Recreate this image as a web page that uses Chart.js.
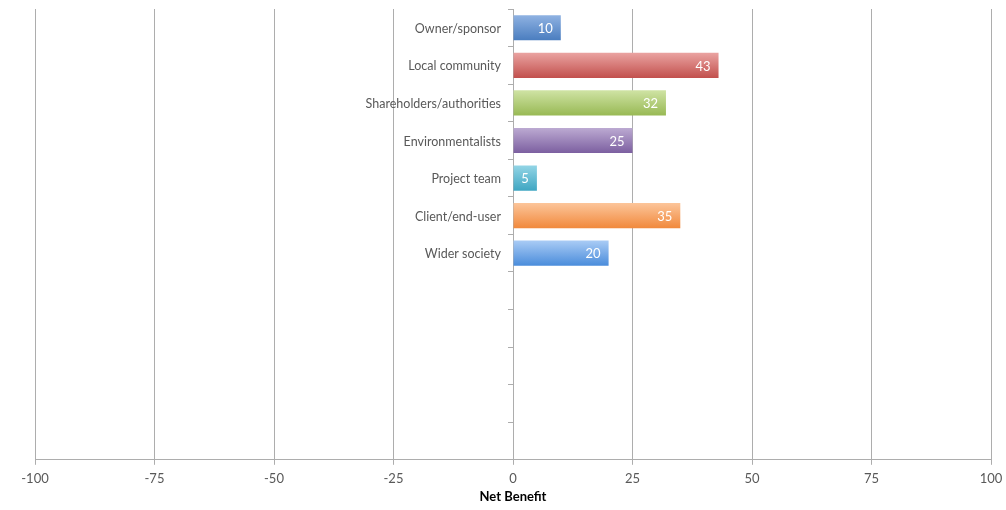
<!DOCTYPE html>
<html>
<head>
<meta charset="utf-8">
<script src="https://cdn.jsdelivr.net/npm/chart.js@4/dist/chart.umd.min.js"></script>
<style>
  html, body { margin: 0; padding: 0; background: #fff; }
  #wrap { width: 1006px; height: 510px; position: relative; }
</style>
</head>
<body>
<div id="wrap"><canvas id="chart"></canvas></div>
<script>
// Stakeholder rows (top to bottom); the last five rows are empty in the source
var stakeholders = ['Owner/sponsor', 'Local community', 'Shareholders/authorities',
    'Environmentalists', 'Project team', 'Client/end-user', 'Wider society', '', '', '', '', ''];
var netBenefit = [10, 43, 32, 25, 5, 35, 20, null, null, null, null, null];
var xTicks = [-100, -75, -50, -25, 0, 25, 50, 75, 100];

// light (top) / dark (bottom) pairs for the Excel-style bar gradient
var barTop = ['#8fb2e2', '#eaa3a1', '#cfe3a4', '#bcaad2', '#93d5e6', '#fcc59a', '#a9cbf5'];
var barBottom = ['#4a7dbf', '#c2504d', '#98b954', '#7c5fa0', '#3fa6c2', '#f1893c', '#4a8cdb'];

var gray = '#adadad';
var textGray = '#595959';
var fontFamily = 'Lato, "Liberation Sans", sans-serif';

function barFill(ctx) {
    var chart = ctx.chart;
    var i = ctx.dataIndex;
    if (!chart.chartArea || !chart.scales.y) return barBottom[i % barBottom.length];
    var y = chart.scales.y;
    var step = Math.abs(y.getPixelForValue(1) - y.getPixelForValue(0));
    var c = y.getPixelForValue(i);
    var half = step * 0.67 / 2;
    var g = chart.ctx.createLinearGradient(0, c - half, 0, c + half);
    g.addColorStop(0, barTop[i % barTop.length]);
    g.addColorStop(1, barBottom[i % barBottom.length]);
    return g;
}

// category names sit left of the zero line, values sit inside the bar ends
var textLabels = {
    id: 'textLabels',
    afterDatasetsDraw: function(chart) {
        var ctx = chart.ctx;
        var x = chart.scales.x;
        var y = chart.scales.y;
        var x0 = x.getPixelForValue(0);
        ctx.save();
        ctx.textBaseline = 'middle';
        ctx.textAlign = 'right';

        ctx.fillStyle = textGray;
        ctx.font = '12.5px ' + fontFamily;
        stakeholders.forEach(function(name, i) {
            if (!name) return;
            ctx.fillText(name, x0 - 12, y.getPixelForValue(i) + 1);
        });

        var meta = chart.getDatasetMeta(0);
        ctx.fillStyle = '#ffffff';
        ctx.font = '13px ' + fontFamily;
        meta.data.forEach(function(bar, i) {
            var v = netBenefit[i];
            if (v === null) return;
            ctx.fillText(String(v), bar.x - 8, bar.y + 1);
        });
        ctx.restore();
    }
};

new Chart(document.getElementById('chart'), {
    type: 'bar',
    data: {
        labels: stakeholders,
        datasets: [{
            label: 'Net Benefit',
            data: netBenefit,
            backgroundColor: barFill,
            borderWidth: 0,
            barPercentage: 0.67,
            categoryPercentage: 1
        }]
    },
    plugins: [textLabels],
    options: {
        indexAxis: 'y',
        responsive: true,
        maintainAspectRatio: false,
        animation: false,
        layout: { padding: { left: 35, right: 15, top: 9, bottom: 3 } },
        plugins: {
            legend: { display: false },
            tooltip: { enabled: false }
        },
        scales: {
            x: {
                min: -100,
                max: 100,
                afterBuildTicks: function(axis) {
                    axis.ticks = xTicks.map(function(v) { return { value: v }; });
                },
                afterFit: function(axis) {
                    // let layout padding alone decide the side margins
                    axis.paddingLeft = 0;
                    axis.paddingRight = 0;
                },
                grid: { color: gray, lineWidth: 1, tickLength: 5 },
                border: { color: gray },
                ticks: {
                    color: textGray,
                    padding: 6,
                    font: { family: fontFamily, size: 13 }
                },
                title: {
                    display: true,
                    text: 'Net Benefit',
                    color: '#000',
                    padding: { top: -3, bottom: 2 },
                    font: { family: fontFamily, size: 13, weight: 'bold' }
                }
            },
            y: {
                position: { x: 0 },
                grid: { offset: true, drawOnChartArea: false, color: gray, tickLength: 5 },
                border: { color: gray },
                ticks: { display: false }
            }
        }
    }
});
</script>
</body>
</html>
